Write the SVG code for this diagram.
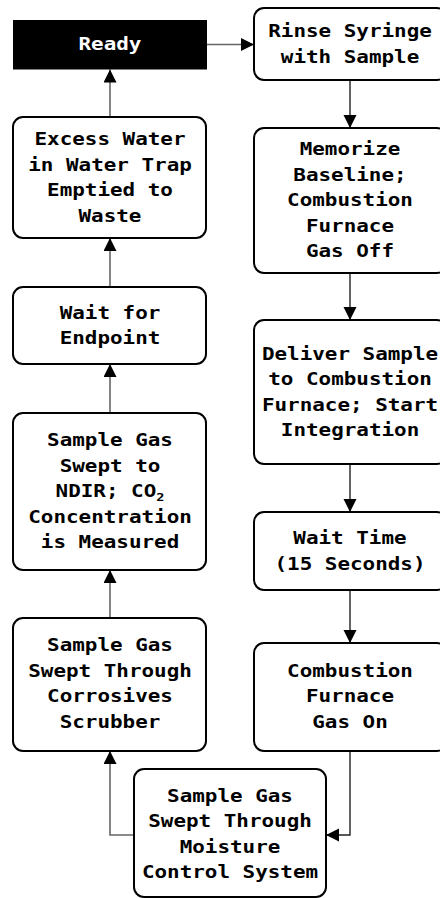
<svg xmlns="http://www.w3.org/2000/svg" width="440" height="898" viewBox="0 0 440 898">
<style>
.box{fill:#fff;stroke:#000;stroke-width:2}
.t{font-family:"DejaVu Sans Mono","Liberation Mono",monospace;font-weight:bold;font-size:17px;text-anchor:middle;fill:#000}
.w{fill:#fff}
.cg{fill:none;stroke:#666;stroke-width:1.6}
.ck{fill:none;stroke:#222;stroke-width:1.4}
</style>
<defs>
<marker id="ah" markerUnits="userSpaceOnUse" markerWidth="14" markerHeight="14" refX="13" refY="6.5" orient="auto">
<path d="M0,0 L13,6.5 L0,13 z" fill="#000"/>
</marker>
</defs>
<g id="connectors">
<path class="cg" d="M207,44.5 H254" marker-end="url(#ah)"/>
<path class="ck" d="M350,80 V128" marker-end="url(#ah)"/>
<path class="ck" d="M350,273 V320" marker-end="url(#ah)"/>
<path class="ck" d="M350,464 V512" marker-end="url(#ah)"/>
<path class="ck" d="M350,590 V643" marker-end="url(#ah)"/>
<path class="ck" d="M350,751 V835 H326" marker-end="url(#ah)"/>
<path class="cg" d="M134,835 H110 V751" marker-end="url(#ah)"/>
<path class="cg" d="M110,618 V570" marker-end="url(#ah)"/>
<path class="cg" d="M110,413 V364" marker-end="url(#ah)"/>
<path class="cg" d="M110,287 V238" marker-end="url(#ah)"/>
<path class="cg" d="M110,117 V69.5" marker-end="url(#ah)"/>
</g>
<g id="ready">
<rect x="13" y="20" width="194" height="49.5" fill="#000"/>
<g transform="translate(110 0) scale(1.23 1)"><text class="t w" x="0" y="50.5">Ready</text></g>
</g>
<g id="excess">
<rect class="box" x="13" y="117" width="193" height="121" rx="10"/>
<g transform="translate(110 0) scale(1.23 1)">
<text class="t" x="0" y="145.3">Excess Water</text>
<text class="t" x="0" y="170.8">in Water Trap</text>
<text class="t" x="0" y="196.3">Emptied to</text>
<text class="t" x="0" y="221.8">Waste</text>
</g>
</g>
<g id="waitEndpoint">
<rect class="box" x="13" y="287" width="193" height="77" rx="10"/>
<g transform="translate(110 0) scale(1.23 1)">
<text class="t" x="0" y="318.8">Wait for</text>
<text class="t" x="0" y="344.3">Endpoint</text>
</g>
</g>
<g id="ndir">
<rect class="box" x="13" y="413" width="193" height="157" rx="10"/>
<g transform="translate(110 0) scale(1.23 1)">
<text class="t" x="0" y="446.5">Sample Gas</text>
<text class="t" x="0" y="472">Swept to</text>
<text class="t" x="0" y="497.5">NDIR; CO<tspan font-size="11" dy="4">2</tspan></text>
<text class="t" x="0" y="523">Concentration</text>
<text class="t" x="0" y="548.5">is Measured</text>
</g>
</g>
<g id="corrosives">
<rect class="box" x="13" y="618" width="193" height="133" rx="10"/>
<g transform="translate(110 0) scale(1.23 1)">
<text class="t" x="0" y="651.3">Sample Gas</text>
<text class="t" x="0" y="676.8">Swept Through</text>
<text class="t" x="0" y="702.3">Corrosives</text>
<text class="t" x="0" y="727.8">Scrubber</text>
</g>
</g>
<g id="moisture">
<rect class="box" x="134" y="769" width="192" height="128" rx="10"/>
<g transform="translate(230 0) scale(1.23 1)">
<text class="t" x="0" y="802">Sample Gas</text>
<text class="t" x="0" y="827.5">Swept Through</text>
<text class="t" x="0" y="853">Moisture</text>
<text class="t" x="0" y="878.5">Control System</text>
</g>
</g>
<g id="rinse">
<rect class="box" x="254" y="8" width="193" height="72" rx="10"/>
<g transform="translate(350 0) scale(1.23 1)">
<text class="t" x="0" y="37.3">Rinse Syringe</text>
<text class="t" x="0" y="62.8">with Sample</text>
</g>
</g>
<g id="memorize">
<rect class="box" x="254" y="128" width="193" height="145" rx="10"/>
<g transform="translate(350 0) scale(1.23 1)">
<text class="t" x="0" y="155.5">Memorize</text>
<text class="t" x="0" y="181">Baseline;</text>
<text class="t" x="0" y="206.5">Combustion</text>
<text class="t" x="0" y="232">Furnace</text>
<text class="t" x="0" y="257.5">Gas Off</text>
</g>
</g>
<g id="deliver">
<rect class="box" x="254" y="320" width="193" height="144" rx="10"/>
<g transform="translate(350 0) scale(1.23 1)">
<text class="t" x="0" y="359.8">Deliver Sample</text>
<text class="t" x="0" y="385.3">to Combustion</text>
<text class="t" x="0" y="410.8">Furnace; Start</text>
<text class="t" x="0" y="436.3">Integration</text>
</g>
</g>
<g id="waitTime">
<rect class="box" x="254" y="512" width="193" height="78" rx="10"/>
<g transform="translate(350 0) scale(1.23 1)">
<text class="t" x="0" y="544.3">Wait Time</text>
<text class="t" x="0" y="569.8">(15 Seconds)</text>
</g>
</g>
<g id="furnaceOn">
<rect class="box" x="254" y="643" width="193" height="108" rx="10"/>
<g transform="translate(350 0) scale(1.23 1)">
<text class="t" x="0" y="677">Combustion</text>
<text class="t" x="0" y="702.5">Furnace</text>
<text class="t" x="0" y="728">Gas On</text>
</g>
</g>
</svg>
